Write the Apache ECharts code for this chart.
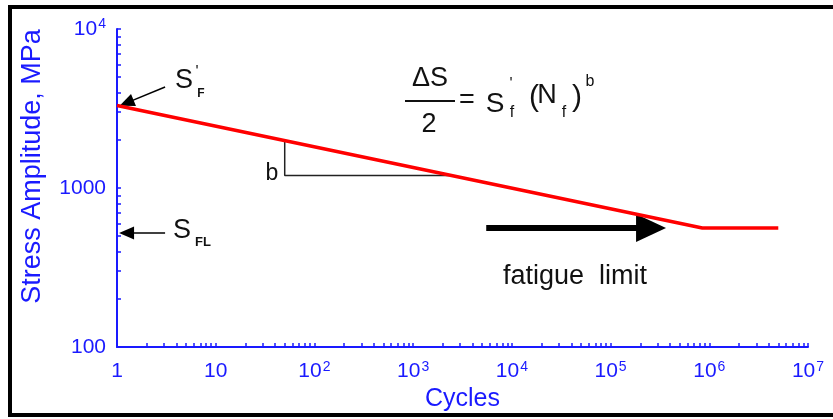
<!DOCTYPE html>
<html>
<head>
<meta charset="utf-8">
<script src="https://cdn.jsdelivr.net/npm/echarts@6/dist/echarts.min.js"></script>
<style>
  html, body { margin: 0; padding: 0; background: #fff; }
  #chart { width: 833px; height: 419px; }
</style>
</head>
<body>
<div id="chart"></div>
<script>
// S-N curve (cycles vs stress amplitude)
const snCycles = [1, 850000, 5000000];
const snStress = [3300, 560, 560];

// slope triangle "b"
const slopeCycles = [50, 50, 2500];
const slopeStress = [1980, 1200, 1200];

// arrows [from, to] in data units
const smallArrows = [
  [[3.07, 4315], [1.25, 3430]],   // S'f
  [[3.07, 521], [1.25, 521]]      // S_FL
];
const bigArrow = [[5500, 560], [257000, 560]];

// axis ticks and labels
const xDecades = [1, 10, 100, 1000, 10000, 100000, 1000000, 10000000];
const xTickBase = ['1', '10', '10', '10', '10', '10', '10', '10'];
const xTickExp = ['', '', '2', '3', '4', '5', '6', '7'];
const yDecades = [100, 1000, 10000];
const yTickBase = ['100', '1000', '10'];
const yTickExp = ['', '', '4'];
const minorSteps = [1, 2, 3, 4, 5, 6, 7, 8, 9];

const BLUE = '#1a1aff';
const INK = '#111';
const FONT = '"Liberation Sans", Arial, sans-serif';

function buildTicks(decades) {
  const out = [];
  decades.forEach((d, i) => {
    if (i === decades.length - 1) { out.push(d); return; }
    minorSteps.forEach((m) => out.push(d * m));
  });
  return out;
}

function labelFmt(values, base, exp) {
  return function (v) {
    let i = values.findIndex((d) => Math.abs(d - v) / d < 1e-6);
    if (i < 0) return '';
    return exp[i] ? `{b|${base[i]}}{s|${exp[i]}}` : `{b|${base[i]}}`;
  };
}

const labelRich = {
  b: { fontSize: 21, color: BLUE, fontFamily: FONT, lineHeight: 23 },
  s: { fontSize: 14, color: BLUE, fontFamily: FONT, verticalAlign: 'top', lineHeight: 14, padding: [0, 0, 6, 1] }
};

const chart = echarts.init(document.getElementById('chart'));

const option = {
  animation: false,
  backgroundColor: '#fff',
  grid: { left: 117, right: 25, top: 29, bottom: 72 },
  xAxis: {
    type: 'log',
    logBase: 10,
    min: 1,
    max: 10000000,
    name: 'Cycles',
    nameLocation: 'middle',
    nameGap: 36,
    nameTextStyle: { color: BLUE, fontSize: 25, fontFamily: FONT },
    axisLine: { lineStyle: { color: BLUE, width: 2 } },
    axisTick: { show: true, inside: true, length: 4, lineStyle: { color: BLUE, width: 1.5 }, customValues: buildTicks(xDecades) },
    axisLabel: { margin: 13, formatter: labelFmt(xDecades, xTickBase, xTickExp), rich: labelRich, customValues: xDecades },
    splitLine: { show: false }
  },
  yAxis: {
    type: 'log',
    logBase: 10,
    min: 100,
    max: 10000,
    name: 'Stress Amplitude, MPa',
    nameLocation: 'middle',
    nameGap: 71,
    nameTextStyle: { color: BLUE, fontSize: 27, fontFamily: FONT, padding: [0, 0, 0, 43] },
    axisLine: { lineStyle: { color: BLUE, width: 2 } },
    axisTick: { show: true, inside: true, length: 4, lineStyle: { color: BLUE, width: 1.5 }, customValues: buildTicks(yDecades) },
    axisLabel: { margin: 11, formatter: labelFmt(yDecades, yTickBase, yTickExp), rich: labelRich, customValues: yDecades },
    splitLine: { show: false }
  },
  series: [
    {
      name: 'S-N',
      type: 'line',
      silent: true,
      symbol: 'none',
      lineStyle: { color: '#ff0000', width: 3.5 },
      data: snCycles.map((c, i) => [c, snStress[i]]),
      z: 5
    },
    {
      name: 'slope',
      type: 'line',
      silent: true,
      symbol: 'none',
      lineStyle: { color: '#222', width: 1.5 },
      data: slopeCycles.map((c, i) => [c, slopeStress[i]]),
      z: 3
    },
    {
      name: 'small arrows',
      type: 'line',
      silent: true,
      data: [],
      markLine: {
        silent: true,
        animation: false,
        symbol: ['none', 'triangle'],
        symbolSize: [13, 15],
        label: { show: false },
        lineStyle: { color: '#000', width: 1.5, type: 'solid' },
        emphasis: { disabled: true },
        data: smallArrows.map((a) => [{ coord: a[0] }, { coord: a[1] }])
      }
    },
    {
      name: 'big arrow',
      type: 'line',
      silent: true,
      data: [],
      markLine: {
        silent: true,
        animation: false,
        symbol: ['none', 'triangle'],
        symbolSize: [28, 30],
        label: { show: false },
        lineStyle: { color: '#000', width: 6, type: 'solid' },
        emphasis: { disabled: true },
        data: [[{ coord: bigArrow[0] }, { coord: bigArrow[1] }]]
      }
    }
  ],
  graphic: [
    { type: 'rect', shape: { x: 10, y: 7, width: 840, height: 408 }, style: { fill: 'none', stroke: '#000', lineWidth: 4 }, silent: true },
    // S'f label
    { type: 'text', x: 184, y: 81, style: { text: 'S', font: '27px ' + FONT, fill: INK, align: 'center', verticalAlign: 'middle' } },
    { type: 'text', x: 197, y: 73, style: { text: "'", font: '16px ' + FONT, fill: INK, align: 'center', verticalAlign: 'middle' } },
    { type: 'text', x: 201, y: 94, style: { text: 'F', font: 'bold 12px ' + FONT, fill: INK, align: 'center', verticalAlign: 'middle' } },
    // S_FL label
    { type: 'text', x: 182, y: 231, style: { text: 'S', font: '27px ' + FONT, fill: INK, align: 'center', verticalAlign: 'middle' } },
    { type: 'text', x: 203, y: 242, style: { text: 'FL', font: 'bold 13px ' + FONT, fill: INK, align: 'center', verticalAlign: 'middle' } },
    // b
    { type: 'text', x: 272, y: 174, style: { text: 'b', font: '23px ' + FONT, fill: INK, align: 'center', verticalAlign: 'middle' } },
    // formula
    { type: 'text', x: 430, y: 79, style: { text: 'ΔS', font: '27px ' + FONT, fill: INK, align: 'center', verticalAlign: 'middle' } },
    { type: 'line', shape: { x1: 405, y1: 101, x2: 455, y2: 101 }, style: { stroke: INK, lineWidth: 2 } },
    { type: 'text', x: 429, y: 125, style: { text: '2', font: '27px ' + FONT, fill: INK, align: 'center', verticalAlign: 'middle' } },
    { type: 'text', x: 467, y: 101, style: { text: '=', font: '27px ' + FONT, fill: INK, align: 'center', verticalAlign: 'middle' } },
    { type: 'text', x: 495, y: 104, style: { text: 'S', font: '28px ' + FONT, fill: INK, align: 'center', verticalAlign: 'middle' } },
    { type: 'text', x: 511, y: 85, style: { text: "'", font: '16px ' + FONT, fill: INK, align: 'center', verticalAlign: 'middle' } },
    { type: 'text', x: 512, y: 113, style: { text: 'f', font: '16px ' + FONT, fill: INK, align: 'center', verticalAlign: 'middle' } },
    { type: 'text', x: 534, y: 98, style: { text: '(', font: '30px ' + FONT, fill: INK, align: 'center', verticalAlign: 'middle' } },
    { type: 'text', x: 547, y: 96, style: { text: 'N', font: '27px ' + FONT, fill: INK, align: 'center', verticalAlign: 'middle' } },
    { type: 'text', x: 564, y: 113, style: { text: 'f', font: '16px ' + FONT, fill: INK, align: 'center', verticalAlign: 'middle' } },
    { type: 'text', x: 577, y: 98, style: { text: ')', font: '30px ' + FONT, fill: INK, align: 'center', verticalAlign: 'middle' } },
    { type: 'text', x: 590, y: 82, style: { text: 'b', font: '16px ' + FONT, fill: INK, align: 'center', verticalAlign: 'middle' } },
    // fatigue limit
    { type: 'text', x: 575, y: 277, style: { text: 'fatigue  limit', font: '27px ' + FONT, fill: INK, align: 'center', verticalAlign: 'middle' } }
  ]
};

chart.setOption(option);
</script>
</body>
</html>
